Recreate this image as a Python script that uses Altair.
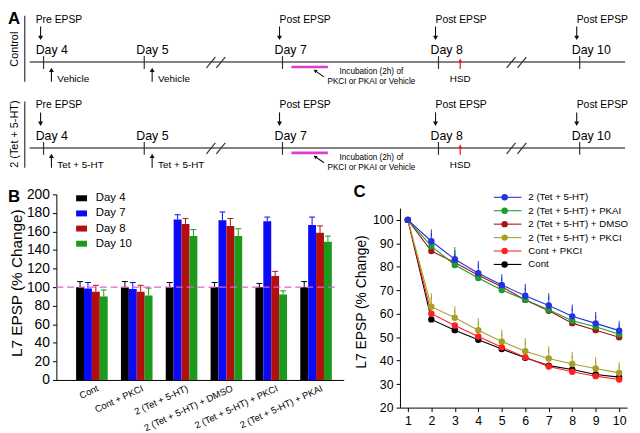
import altair as alt
import pandas as pd

FONT = "Liberation Sans"

# ---------------- Panel A content ----------------
a_days = ["Day 4", "Day 5", "Day 7", "Day 8", "Day 10"]
a_epsp = ["Pre EPSP", "", "Post EPSP", "Post EPSP", "Post EPSP"]
a_rows = ["Control", "2 (Tet + 5-HT)"]
a_treat = ["Vehicle", "Tet + 5-HT"]
a_incubation = ["Incubation (2h) of", "PKCI or PKAI or Vehicle"]
a_hsd = "HSD"

# ---------------- Panel B data ----------------
b_groups = ["Cont", "Cont + PKCI", "2 (Tet + 5-HT)", "2 (Tet + 5-HT) + DMSO",
            "2 (Tet + 5-HT) + PKCI", "2 (Tet + 5-HT) + PKAI"]
b_days = ["Day 4", "Day 7", "Day 8", "Day 10"]
b_colors = ["#000000", "#0a0af5", "#b21010", "#1c9a1c"]
b_day4 = [100, 100, 100, 100, 100, 100]
b_day7 = [98.5, 98, 173, 172, 171, 167]
b_day8 = [95, 95, 168, 166, 112, 158.5]
b_day10 = [90, 91, 155, 155, 92, 149]
b_day4_err = [106, 106, 105, 105, 104, 106]
b_day7_err = [105, 105, 178, 181, 175.5, 175.5]
b_day8_err = [102, 102, 174, 174, 117, 166]
b_day10_err = [97, 99, 162, 163, 96, 155]
b_baseline = [100]

# ---------------- Panel C data ----------------
c_sessions = [1, 2, 3, 4, 5, 6, 7, 8, 9, 10]
c_series = ["2 (Tet + 5-HT)", "2 (Tet + 5-HT) + PKAI", "2 (Tet + 5-HT) + DMSO",
            "2 (Tet + 5-HT) + PKCI", "Cont + PKCI", "Cont"]
c_colors = ["#2233e0", "#1e9a32", "#a51515", "#a8a025", "#ff2020", "#000000"]
c_tet = [100, 90.9, 83.2, 77.3, 72.3, 67.7, 63.5, 58.9, 55.9, 52.8]
c_pkai = [100, 88.8, 80.8, 75.2, 70.1, 66.0, 61.7, 57.0, 54.5, 51.3]
c_dmso = [100, 86.7, 81.8, 76.4, 71.5, 65.9, 61.3, 56.0, 53.0, 50.0]
c_pkci = [100, 63.0, 58.3, 53.0, 48.2, 44.0, 40.9, 38.6, 36.7, 34.8]
c_cont_pkci = [100, 60.0, 55.0, 50.3, 45.7, 41.5, 37.5, 35.3, 33.4, 32.0]
c_cont = [100, 57.6, 53.0, 48.9, 45.0, 41.2, 37.9, 36.2, 34.1, 33.0]
c_tet_err = [None, 94.4, 85.5, 81.0, 75.4, 71.2, 67.3, 62.5, 59.3, 55.5]
c_pkai_err = [None, None, 87.0, None, None, None, None, None, None, None]
c_pkci_err = [None, 67.3, 61.7, 56.6, 51.7, 48.2, 44.7, 42.3, 40.0, 37.9]

# ---------------- layout (page pixel coordinates) ----------------
CXS = alt.Scale(domain=[8, 640], range=[0, 632], nice=False, zero=False)
CYS = alt.Scale(domain=[8, 433], range=[0, 425], nice=False, zero=False)
row_off = [0, 87]
day_x = [44, 146, 286, 444, 587]


def cx(f):
    return alt.X(f"{f}:Q", scale=CXS, axis=None)


def cy(f):
    return alt.Y(f"{f}:Q", scale=CYS, axis=None)


def rules(rows, color, width):
    df = pd.DataFrame(rows, columns=["x1", "x2", "y1", "y2"])
    return alt.Chart(df).mark_rule(color=color, strokeWidth=width).encode(
        x=cx("x1"), x2="x2:Q", y=cy("y1"), y2="y2:Q")


def texts(rows, size, align="left", baseline="alphabetic", angle=0, weight="normal", color="black"):
    df = pd.DataFrame(rows, columns=["x", "y", "t"])
    return alt.Chart(df).mark_text(font=FONT, fontSize=size, align=align, baseline=baseline,
                                   angle=angle, fontWeight=weight, color=color).encode(
        x=cx("x"), y=cy("y"), text="t:N")


def heads(rows, shape, color, size, angle=0):
    df = pd.DataFrame(rows, columns=["x", "y"])
    return alt.Chart(df).mark_point(shape=shape, filled=True, color=color, size=size,
                                    angle=angle, opacity=1, strokeWidth=0).encode(
        x=cx("x"), y=cy("y"))


gray_rules, dark_rules, black_rules, magenta_rules, red_rules = [], [], [], [], []
down_heads, up_heads, red_heads, small_heads = [], [], [], []
day_txt, epsp_txt, treat_txt, inc_txt, hsd_txt = [], [], [], [], []
for r, off in enumerate(row_off):
    gray_rules.append((30, 633, 60 + off, 60 + off))
    for (a, b) in [(209, 218), (219, 228), (513, 522), (524, 533)]:
        dark_rules.append((a, b, 66 + off, 55 + off))
    for x in day_x:
        dark_rules.append((x, x, 54 + off, 67 + off))
    dark_rules.append((25, 25, 13 + off, 80 + off))
    for i, x in enumerate(day_x):
        day_txt.append((x - 8, 52 + off, a_days[i]))
        if a_epsp[i]:
            ax = x - 3 if i > 0 else 41
            tx = x - 3 if i > 0 else 36
            epsp_txt.append((tx, 20 + off, a_epsp[i]))
            black_rules.append((ax, ax, 24 + off, 34 + off))
            down_heads.append((ax, 35.5 + off))
    for x, tx in [(52, 58), (154, 160)]:
        black_rules.append((x, x, 70 + off, 80 + off))
        up_heads.append((x, 68 + off))
        treat_txt.append((tx, 80 + off, a_treat[r]))
    magenta_rules.append((295, 332, 65 + off, 65 + off))
    black_rules.append((328, 320, 75 + off, 69.5 + off))
    small_heads.append((319, 68.8 + off))
    inc_txt.append((376, 72.5 + off, a_incubation[0]))
    inc_txt.append((376, 82 + off, a_incubation[1]))
    red_rules.append((466, 466, 60 + off, 67 + off))
    red_heads.append((466, 58.5 + off))
    hsd_txt.append((466, 80 + off, a_hsd))

canvas = [
    rules(gray_rules, "#5a5a5a", 1.6),
    rules(dark_rules, "#333333", 1.2),
    rules(black_rules, "#111111", 1.1),
    rules(magenta_rules, "#e03cd2", 2.6),
    rules(red_rules, "#e8202a", 1.3),
    heads(down_heads, "triangle-down", "#111111", 26),
    heads(up_heads, "triangle-up", "#111111", 26),
    heads(red_heads, "triangle-up", "#e8202a", 22),
    heads(small_heads, "triangle-up", "#111111", 16, angle=305),
    texts(day_txt, 12.5),
    texts(epsp_txt, 10.5),
    texts(treat_txt, 10),
    texts(inc_txt, 8.3, align="center"),
    texts(hsd_txt, 10, align="center"),
    texts([(15, 47, a_rows[0]), (15, 133, a_rows[1])], 11, align="center", baseline="middle", angle=270),
    texts([(8, 21, "A"), (8, 202, "B"), (358, 197, "C")], 17, weight="bold"),
    texts([(17, 284, "L7 EPSP (% Change)")], 15.5, align="center", baseline="middle", angle=270),
    texts([(367, 303, "L7 EPSP (% Change)")], 14, align="center", baseline="middle", angle=270),
]

# ---------------- Panel B ----------------
b_vals = [b_day4, b_day7, b_day8, b_day10]
b_errs = [b_day4_err, b_day7_err, b_day8_err, b_day10_err]
rowsB = []
for gi, g in enumerate(b_groups):
    for di, d in enumerate(b_days):
        rowsB.append(dict(group=g, day=d, v=b_vals[di][gi], e=b_errs[di][gi]))
dfB = pd.DataFrame(rowsB)

XB = alt.X("group:N", sort=b_groups, title=None,
           scale=alt.Scale(domain=b_groups, range=[49, 340], paddingInner=0.295,
                           paddingOuter=0.352, align=0.625),
           axis=alt.Axis(orient="bottom", offset=-51, labelAngle=-25, labelFontSize=9.5,
                         ticks=False, title=None, labelPadding=3, labelAlign="right",
                         labelBaseline="top", labelOffset=4, domainColor="black",
                         labelColor="black"))
XOB = alt.XOffset("day:N", sort=b_days, scale=alt.Scale(domain=b_days))
YBS = alt.Scale(domain=[0, 200], range=[374, 186], nice=False, zero=False)
YBA = alt.Axis(orient="left", offset=-49, values=list(range(0, 201, 20)), labelFontSize=14,
               tickSize=4, title=None, grid=False, domainColor="black", tickColor="black",
               labelColor="black", labelPadding=3)
colorB = alt.Color("day:N", scale=alt.Scale(domain=b_days, range=b_colors), legend=None)

bars = alt.Chart(dfB).mark_bar().encode(
    x=XB, xOffset=XOB, y=alt.Y("v:Q", scale=YBS, axis=YBA, title=None), color=colorB)
stems = alt.Chart(dfB).mark_rule(strokeWidth=1).encode(
    x=XB, xOffset=XOB, y=alt.Y("v:Q", scale=YBS, axis=YBA, title=None), y2="e:Q", color=colorB)
caps = alt.Chart(dfB).mark_tick(thickness=1, size=6, opacity=1).encode(
    x=XB, xOffset=XOB, y=alt.Y("e:Q", scale=YBS, axis=YBA, title=None), color=colorB)
dash = alt.Chart(pd.DataFrame({"v": b_baseline})).mark_rule(
    color="#e060d0", strokeWidth=1.2, strokeDash=[7, 4]).encode(
    y=alt.Y("v:Q", scale=YBS, axis=YBA, title=None), x=alt.value(49), x2=alt.value(335))
panelB = alt.layer(stems, caps, bars, dash)

dfLB = pd.DataFrame({"day": b_days, "i": list(range(len(b_days)))})
YLB = alt.Y("i:Q", scale=alt.Scale(domain=[0, 3], range=[190, 236], nice=False, zero=False), axis=None)
legB = alt.layer(
    alt.Chart(dfLB).mark_point(shape="M-1,-0.55H1V0.55H-1Z", filled=True, size=121,
                               opacity=1, strokeWidth=0).encode(x=alt.value(74.5), y=YLB, color=colorB),
    alt.Chart(dfLB).mark_text(font=FONT, fontSize=11.5, align="left", baseline="middle",
                              color="black").encode(x=alt.value(89), y=YLB, text="day:N"),
)

# ---------------- Panel C ----------------
c_vals = [c_tet, c_pkai, c_dmso, c_pkci, c_cont_pkci, c_cont]
c_errs = {0: c_tet_err, 1: c_pkai_err, 3: c_pkci_err}
rowsC, rowsCe = [], []
for si in reversed(range(len(c_series))):
    for xi, x in enumerate(c_sessions):
        rowsC.append(dict(series=c_series[si], x=x, v=c_vals[si][xi], k=si))
for si, errs in c_errs.items():
    for xi, x in enumerate(c_sessions):
        if errs[xi] is not None:
            rowsCe.append(dict(series=c_series[si], x=x, v=c_vals[si][xi], e=errs[xi]))
dfC = pd.DataFrame(rowsC)
dfCe = pd.DataFrame(rowsCe)

XCS = alt.Scale(domain=[0.664, 10.336], range=[397, 627], nice=False, zero=False)
XCA = alt.Axis(orient="bottom", offset=-23, values=c_sessions, labelFontSize=12.5, tickSize=4,
               title=None, grid=False, domainColor="black", tickColor="black",
               labelColor="black", labelPadding=3)
YCS = alt.Scale(domain=[20, 105], range=[402, 200], nice=False, zero=False)
YCA = alt.Axis(orient="left", offset=-397, values=list(range(20, 101, 10)), labelFontSize=12.5,
               tickSize=4, title=None, grid=False, domainColor="black", tickColor="black",
               labelColor="black", labelPadding=3)
colorC = alt.Color("series:N", scale=alt.Scale(domain=c_series, range=c_colors), legend=None)

lineC = alt.Chart(dfC).mark_line(strokeWidth=1.1).encode(
    x=alt.X("x:Q", scale=XCS, axis=XCA, title=None),
    y=alt.Y("v:Q", scale=YCS, axis=YCA, title=None), color=colorC, detail="k:N")
errC = alt.Chart(dfCe).mark_rule(strokeWidth=1).encode(
    x=alt.X("x:Q", scale=XCS, axis=XCA, title=None),
    y=alt.Y("v:Q", scale=YCS, axis=YCA, title=None), y2="e:Q", color=colorC)
capC = alt.Chart(dfCe).mark_tick(thickness=1, size=7, opacity=1).encode(
    x=alt.X("x:Q", scale=XCS, axis=XCA, title=None),
    y=alt.Y("e:Q", scale=YCS, axis=YCA, title=None), color=colorC)
ptC = alt.Chart(dfC).mark_circle(size=42, opacity=1).encode(
    x=alt.X("x:Q", scale=XCS, axis=XCA, title=None),
    y=alt.Y("v:Q", scale=YCS, axis=YCA, title=None), color=colorC)
panelC = alt.layer(errC, capC, lineC, ptC)

dfLC = pd.DataFrame({"series": c_series, "i": list(range(len(c_series)))})
YLC = alt.Y("i:Q", scale=alt.Scale(domain=[0, 5], range=[189, 257], nice=False, zero=False), axis=None)
legC = alt.layer(
    alt.Chart(dfLC).mark_rule(strokeWidth=1.1).encode(x=alt.value(492), x2=alt.value(520), y=YLC, color=colorC),
    alt.Chart(dfLC).mark_circle(size=42, opacity=1).encode(x=alt.value(503), y=YLC, color=colorC),
    alt.Chart(dfLC).mark_text(font=FONT, fontSize=9.8, align="left", baseline="middle",
                              color="black").encode(x=alt.value(527), y=YLC, text="series:N"),
)

chart = alt.layer(*canvas, panelB, legB, panelC, legC).resolve_scale(
    x="independent", y="independent", color="independent"
).properties(
    width=632, height=425, padding=0, autosize=alt.AutoSizeParams(type="none")
).configure_view(stroke=None).configure_axis(
    grid=False, labelFont=FONT, titleFont=FONT
)

chart.save("out.html", embed_options={"renderer": "svg", "actions": False})
